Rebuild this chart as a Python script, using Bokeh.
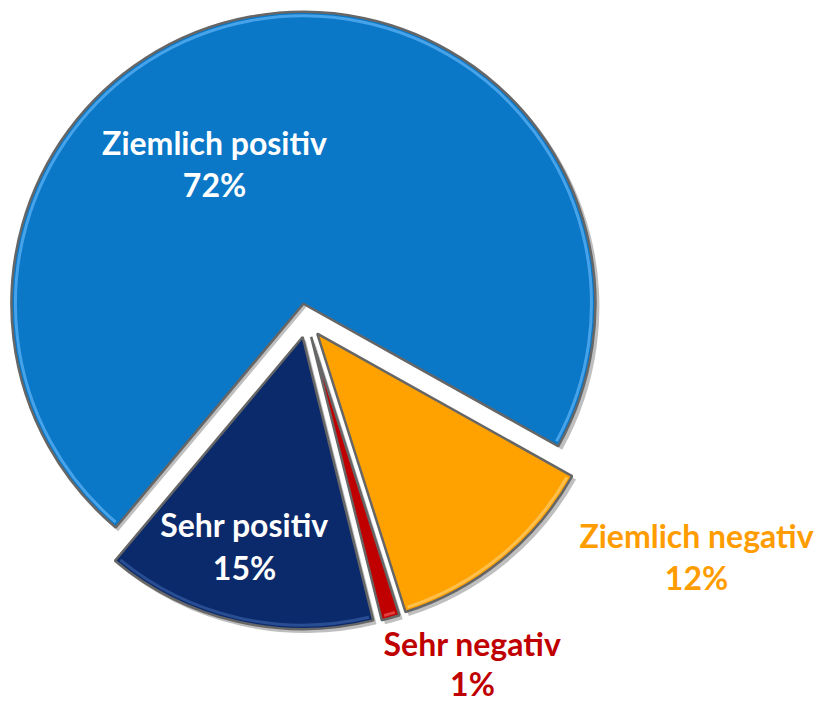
import math
from bokeh.plotting import figure
from bokeh.models import Range1d, ColumnDataSource
from bokeh.core.properties import value
from bokeh.embed import file_html
from bokeh.resources import INLINE

# ---- data ----
categories = ["Ziemlich positiv", "Sehr positiv", "Sehr negativ", "Ziemlich negativ"]
shares = [72, 15, 1, 12]
pct_labels = ["72%", "15%", "1%", "12%"]

# ---- styles / layout ----
colors = ["#0a77c7", "#0b2a6b", "#c00000", "#ffa200"]
bevel_colors = ["#52aaee", "#2f5499", "#e84a4a", "#ffc45a"]
text_colors = ["#ffffff", "#ffffff", "#c00000", "#ff9c00"]
label_x = [214, 244, 472, 696]
label_y1 = [155, 537, 656, 548]   # baseline of first line (image px)
label_y2 = [197, 580, 696, 590]   # baseline of second line
TEXT_SHIFT = 13                   # compensate renderer's baseline offset

W, H = 818, 707
CX, CY = 306, 320      # pie centre in image px
R = 292
EXPLODE = 17
START_DEG = -29.2

p = figure(width=W, height=H, output_backend="svg", toolbar_location=None,
           x_range=Range1d(0, W), y_range=Range1d(-H, 0),
           min_border=0, min_border_left=0, min_border_right=0,
           min_border_top=0, min_border_bottom=0)
p.axis.visible = False
p.grid.visible = False
p.outline_line_color = None
p.background_fill_color = "white"
p.border_fill_color = "white"

total = float(sum(shares))
xs, ys, a0s, a1s = [], [], [], []
cum = 0.0
for s in shares:
    a0 = START_DEG + cum / total * 360.0
    a1 = a0 + s / total * 360.0
    mid = math.radians((a0 + a1) / 2)
    xs.append(CX + EXPLODE * math.cos(mid))
    ys.append(-CY + EXPLODE * math.sin(mid))
    a0s.append(math.radians(a0))
    a1s.append(math.radians(a1))
    cum += s

src = ColumnDataSource(dict(x=xs, y=ys, a0=a0s, a1=a1s, color=colors,
                            bevel=bevel_colors, cat=categories))
shadow = ColumnDataSource(dict(x=[x + 3 for x in xs], y=[y - 3 for y in ys], a0=a0s, a1=a1s))

# soft shadow
p.wedge(x="x", y="y", radius=R + 1, start_angle="a0", end_angle="a1", source=shadow,
        fill_color="#8a8a8a", fill_alpha=0.55, line_color=None)
# slices
p.wedge(x="x", y="y", radius=R, start_angle="a0", end_angle="a1", source=src,
        fill_color="color", line_color="#666666", line_width=2.5)
# bevel highlight along the outer rim
bev = ColumnDataSource(dict(x=xs, y=ys, a0=[a + 0.012 for a in a0s], a1=[a - 0.012 for a in a1s],
                            c=bevel_colors))
p.arc(x="x", y="y", radius=R - 4, start_angle="a0", end_angle="a1", source=bev,
      line_color="c", line_width=3, line_alpha=0.85)

tsrc = ColumnDataSource(dict(
    x=label_x + label_x,
    y=[-(v - TEXT_SHIFT) for v in label_y1] + [-(v - TEXT_SHIFT) for v in label_y2],
    t=categories + pct_labels,
    c=text_colors + text_colors,
))
p.text(x="x", y="y", text="t", source=tsrc, text_color="c",
       text_font=value("Lato"), text_font_style="bold", text_font_size="32px",
       text_align="center", text_baseline="alphabetic")

open("out.html", "w").write(file_html(p, INLINE))
